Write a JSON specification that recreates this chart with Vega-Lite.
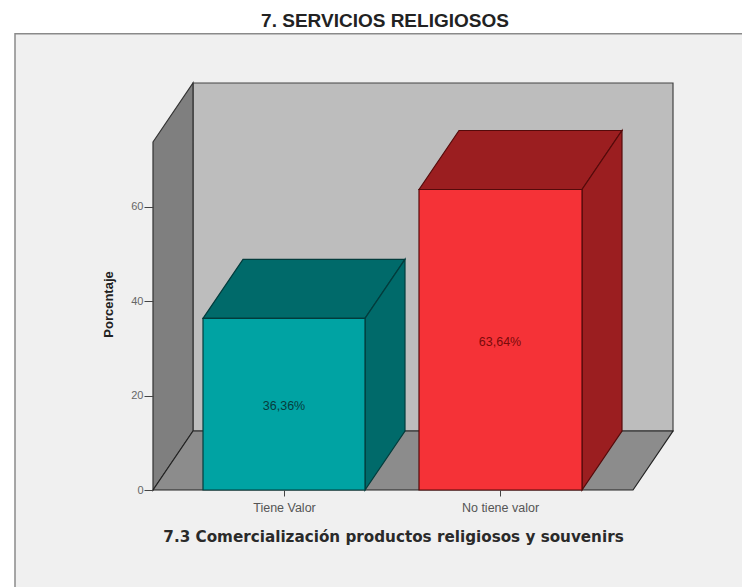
{"$schema":"https://vega.github.io/schema/vega-lite/v6.json","width":480,"height":348,"autosize":{"type":"none"},"padding":{"left":153,"top":142,"right":109,"bottom":97},"background":"#ffffff","config":{"view":{"stroke":null},"font":"Liberation Sans"},"title":{"text":"7. SERVICIOS RELIGIOSOS","font":"Liberation Sans","fontSize":19,"fontWeight":"bold","color":"#222222","anchor":"middle","dx":-8,"offset":2},"datasets":{"frame":[{"x":-138,"x2":620,"low":-30,"high":96.6}],"faces":[{"face":"back wall","x":40,"low":12.5,"high":86.2},{"face":"back wall","x":520,"low":12.5,"high":86.2},{"face":"left wall","x":0,"low":0,"high":73.7},{"face":"left wall","x":40,"low":12.5,"high":86.2},{"face":"floor","x":0,"low":0,"high":0},{"face":"floor","x":40,"low":0,"high":12.5},{"face":"floor","x":480,"low":0,"high":12.5},{"face":"floor","x":520,"low":12.5,"high":12.5},{"face":"Tiene Valor top","x":50,"low":36.36,"high":36.36},{"face":"Tiene Valor top","x":90,"low":36.36,"high":48.86},{"face":"Tiene Valor top","x":212,"low":36.36,"high":48.86},{"face":"Tiene Valor top","x":252,"low":48.86,"high":48.86},{"face":"Tiene Valor side","x":212,"low":0,"high":36.36},{"face":"Tiene Valor side","x":252,"low":12.5,"high":48.86},{"face":"No tiene valor top","x":266,"low":63.64,"high":63.64},{"face":"No tiene valor top","x":306,"low":63.64,"high":76.14},{"face":"No tiene valor top","x":429,"low":63.64,"high":76.14},{"face":"No tiene valor top","x":469,"low":76.14,"high":76.14},{"face":"No tiene valor side","x":429,"low":0,"high":63.64},{"face":"No tiene valor side","x":469,"low":12.5,"high":76.14}],"bars":[{"category":"Tiene Valor","x0":50,"x1":212,"center":131,"value":36.36,"mid":18.18,"label":"36,36%"},{"category":"No tiene valor","x0":266,"x1":429,"center":347,"value":63.64,"mid":31.82,"label":"63,64%"}]},"layer":[{"data":{"name":"frame"},"mark":{"type":"rect","fill":"#f0f0f0","stroke":"#8a8a8a","strokeWidth":1.5},"encoding":{"x":{"field":"x","type":"quantitative","scale":{"domain":[0,480],"nice":false,"zero":false},"axis":{"values":[131,347],"labelExpr":"datum.value == 131 ? 'Tiene Valor' : 'No tiene valor'","title":"7.3 Comercialización productos religiosos y souvenirs","titleFont":"DejaVu Sans","titleFontSize":15.2,"titleFontWeight":"bold","titleColor":"#2a2a2a","titleX":240,"titleY":39,"labelFont":"Liberation Sans","labelFontSize":12.5,"labelColor":"#555555","labelPadding":5,"tickSize":6,"tickColor":"#444444","domain":false,"grid":false,"zindex":1,"labelFlush":false,"labelOverlap":false}},"x2":{"field":"x2"},"y":{"field":"high","type":"quantitative","scale":{"domain":[0,73.7],"nice":false,"zero":false},"axis":{"values":[0,20,40,60],"title":"Porcentaje","titleFont":"Liberation Sans","titleFontSize":13,"titleFontWeight":"bold","titleColor":"#222222","titleX":-38,"titleY":162,"labelFont":"Liberation Sans","labelFontSize":11,"labelColor":"#666666","labelPadding":1,"tickSize":9,"tickColor":"#444444","domain":false,"grid":false,"zindex":1}},"y2":{"field":"low"}}},{"data":{"name":"faces"},"mark":{"type":"area","orient":"vertical","strokeWidth":1.2,"interpolate":"linear"},"encoding":{"x":{"field":"x","type":"quantitative"},"y":{"field":"high","type":"quantitative","stack":null},"y2":{"field":"low"},"fill":{"field":"face","type":"nominal","legend":null,"scale":{"domain":["back wall","left wall","floor","Tiene Valor top","Tiene Valor side","No tiene valor top","No tiene valor side"],"range":["#bdbdbd","#7f7f7f","#8c8c8c","#006a6a","#006a6a","#9b1e20","#9b1e20"]}},"stroke":{"field":"face","type":"nominal","legend":null,"scale":{"domain":["back wall","left wall","floor","Tiene Valor top","Tiene Valor side","No tiene valor top","No tiene valor side"],"range":["#444444","#333333","#222222","#023c3c","#023c3c","#550a0a","#550a0a"]}}}},{"data":{"name":"bars"},"mark":{"type":"rect","strokeWidth":1.2},"encoding":{"x":{"field":"x0","type":"quantitative"},"x2":{"field":"x1"},"y":{"field":"value","type":"quantitative"},"y2":{"datum":0},"fill":{"field":"category","type":"nominal","legend":null,"scale":{"domain":["Tiene Valor","No tiene valor"],"range":["#00a3a3","#f53237"]}},"stroke":{"field":"category","type":"nominal","legend":null,"scale":{"domain":["Tiene Valor","No tiene valor"],"range":["#023c3c","#550a0a"]}}}},{"data":{"name":"bars"},"mark":{"type":"text","font":"Liberation Sans","fontSize":12.5,"align":"center","baseline":"middle","dy":2},"encoding":{"x":{"field":"center","type":"quantitative"},"y":{"field":"mid","type":"quantitative"},"text":{"field":"label"},"color":{"field":"category","type":"nominal","legend":null,"scale":{"domain":["Tiene Valor","No tiene valor"],"range":["#063d3d","#7a0a0a"]}}}}],"resolve":{"scale":{"fill":"independent","stroke":"independent","color":"independent"}}}
